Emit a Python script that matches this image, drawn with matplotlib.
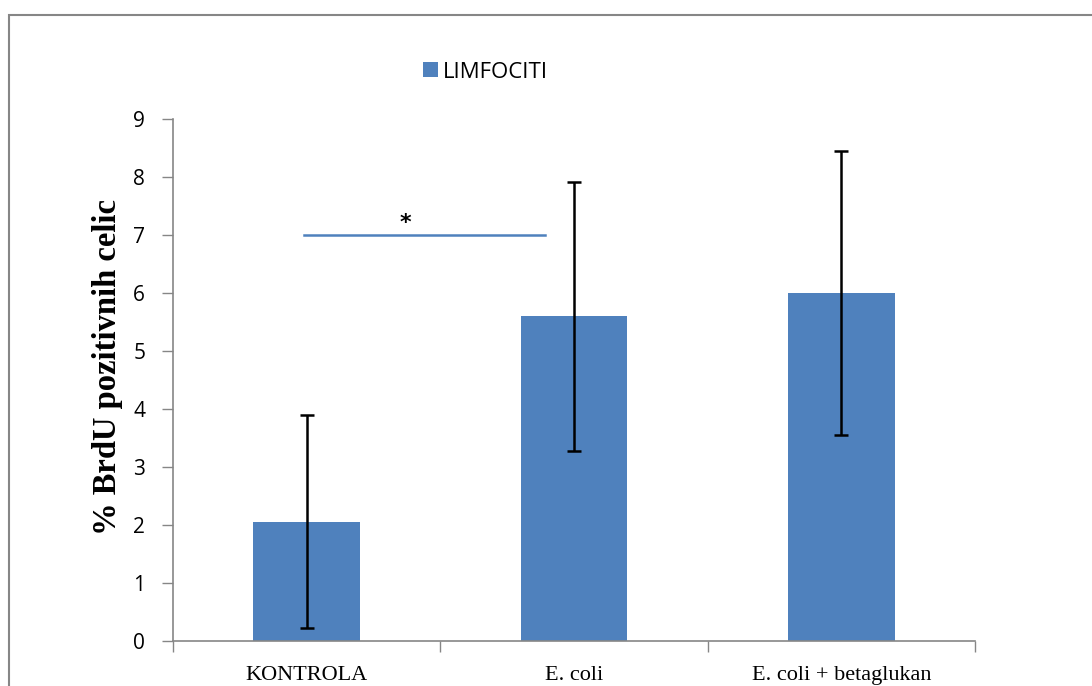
import matplotlib
matplotlib.use("Agg")
import matplotlib.pyplot as plt
from matplotlib.patches import Rectangle

categories = ["KONTROLA", "E. coli", "E. coli + betaglukan"]
values = [2.06, 5.6, 6.0]
errors = [1.84, 2.32, 2.45]
series_name = "LIMFOCITI"
y_label = "% BrdU pozitivnih celic"
yticks = list(range(0, 10))

blue = "#4F81BD"
grey = "#868686"

fig = plt.figure(figsize=(10.92, 6.86), dpi=100)
ax = fig.add_axes([173 / 1092, 1 - 641 / 686, (975 - 173) / 1092, (641 - 119) / 686])

x = list(range(len(categories)))
ax.bar(x, values, width=0.4, color=blue, label=series_name, zorder=2)
ax.errorbar(x, values, yerr=errors, fmt="none", ecolor="black",
            elinewidth=1.8, capsize=5, capthick=1.8, zorder=3)

# significance bar between control and E. coli
ax.plot([-0.01, 0.89], [7, 7], color=blue, lw=1.8, zorder=3)
ax.text(0.37, 7.03, "*", ha="center", va="bottom", fontsize=16,
        fontweight="bold", family="DejaVu Sans")

ax.set_xlim(-0.5, 2.5)
ax.set_ylim(0, 9)
ax.set_yticks(yticks)
ax.set_yticklabels([str(t) for t in yticks], fontsize=15, family="Open Sans")
ax.tick_params(axis="y", direction="out", length=8, color=grey, width=1, pad=12)

ax.set_xticks(x)
ax.set_xticklabels(categories, fontsize=16, family="Liberation Serif")
ax.set_xticks([-0.5, 0.5, 1.5, 2.5], minor=True)
ax.tick_params(axis="x", which="major", length=0, pad=18)
ax.tick_params(axis="x", which="minor", direction="out", length=8, color=grey, width=1)

for side in ("top", "right"):
    ax.spines[side].set_visible(False)
for side in ("left", "bottom"):
    ax.spines[side].set_color(grey)
    ax.spines[side].set_linewidth(1.2)

ax.set_ylabel(y_label, fontsize=23.5, fontweight="bold", family="Liberation Serif")
ax.yaxis.set_label_coords(-0.062, 0.525)

leg = ax.legend(loc="center", bbox_to_anchor=(0.39, 1.09), frameon=False,
                handlelength=0.65, handleheight=0.65, handletextpad=0.25,
                prop={"family": "Open Sans", "size": 16})

# chart frame
fig.patches.append(Rectangle((9 / 1092, -0.1), 1.2, 1.1 - 15 / 686,
                             transform=fig.transFigure, fill=False,
                             edgecolor=grey, lw=1.5))

fig.savefig("out.png", dpi=100)
